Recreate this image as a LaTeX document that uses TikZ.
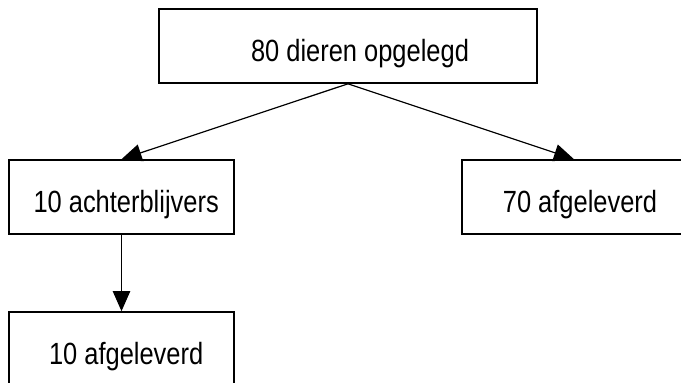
\documentclass[tikz,border=0pt]{standalone}
\usepackage{fontspec}
\setmainfont[FakeStretch=0.83]{Liberation Sans}
\usepackage{tikz}
\usetikzlibrary{arrows.meta,positioning}

\begin{document}
\begin{tikzpicture}[x=0.75pt,y=-0.75pt,
  blok/.style={draw=black,line width=1.2pt,rectangle,minimum height=55.5pt,
               text height=22.5pt,text depth=0pt,inner sep=0pt,
               font=\fontsize{23pt}{27pt}\selectfont},
  pijl/.style={draw=black,line width=0.9pt,-{Triangle[length=15pt,width=13pt]}}]
\clip (0,0) rectangle (681,382);

\node[blok,minimum width=283.5pt] (opgelegd) at (348,46) {\hspace*{18pt}80 dieren opgelegd};
\node[blok,minimum width=168.75pt] (achter) at (121.5,197) {\hspace*{7pt}10 achterblijvers};
\node[blok,minimum width=168pt] (afg70) at (574,197) {\hspace*{9pt}70 afgeleverd};
\node[blok,minimum width=168.75pt] (afg10) at (121.5,349) {\hspace*{7pt}10 afgeleverd};

\draw[pijl] (opgelegd.south) -- (achter.north);
\draw[pijl] (opgelegd.south) -- (afg70.north);
\draw[pijl] (achter.south) -- (afg10.north);

\end{tikzpicture}
\end{document}
